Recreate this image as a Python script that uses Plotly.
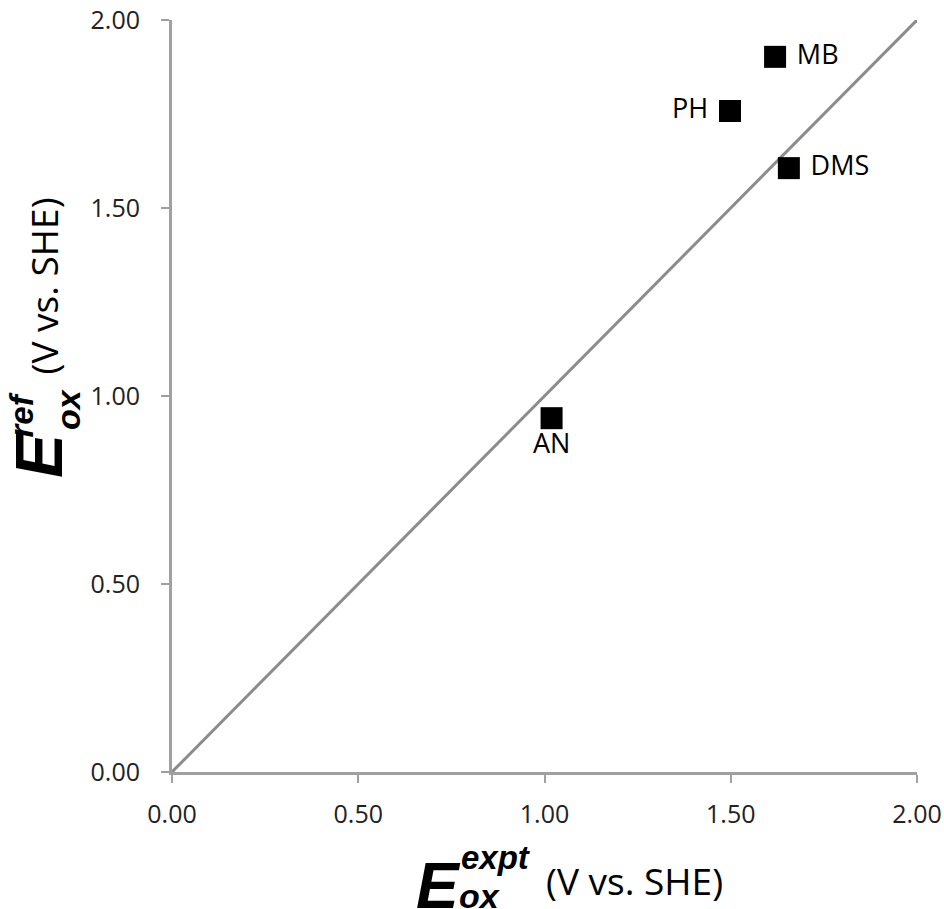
import plotly.graph_objects as go

# ---- data ----
labels = ["MB", "PH", "DMS", "AN"]
e_expt = [1.619, 1.498, 1.656, 1.019]
e_ref = [1.902, 1.758, 1.606, 0.941]
label_pos = ["middle right", "middle left", "middle right", "bottom center"]
line_x = [0.0, 2.0]
line_y = [0.0, 2.0]
tick_vals = [0.0, 0.5, 1.0, 1.5, 2.0]
tick_text = ["0.00", "0.50", "1.00", "1.50", "2.00"]

W, H = 944, 909
L, R, T, B = 172, 27, 20, 137
pw, ph = W - L - R, H - T - B

def px(x):
    return (x - L) / pw

def py(y):
    return (H - B - y) / ph

fig = go.Figure()
fig.add_trace(go.Scatter(x=line_x, y=line_y, mode="lines",
                         line=dict(color="#8c8c8c", width=3), hoverinfo="skip"))
fig.add_trace(go.Scatter(x=e_expt, y=e_ref, mode="markers+text",
                         marker=dict(symbol="square", size=22, color="black"),
                         text=[" " + t if p == "middle right" else (t + " " if p == "middle left" else t)
                               for t, p in zip(labels, label_pos)],
                         textposition=label_pos,
                         textfont=dict(family="Open Sans", size=27, color="black")))

axis_common = dict(range=[0, 2], tickvals=tick_vals, ticktext=tick_text,
                   showgrid=False, zeroline=False, showline=True, automargin=False,
                   linecolor="#a0a0a0", linewidth=3, ticks="outside",
                   ticklen=8, tickwidth=2, tickcolor="#a0a0a0",
                   tickfont=dict(family="Open Sans", size=25, color="#222"))

fig.update_layout(
    width=W, height=H, margin=dict(l=L, r=R, t=T, b=B),
    paper_bgcolor="white", plot_bgcolor="white", showlegend=False,
    xaxis=dict(**axis_common, ticklabelstandoff=10),
    yaxis=dict(**axis_common, ticklabelstandoff=16),
)

bi = dict(family="Liberation Sans", color="black")
ann = []
# x-axis title
ann.append(dict(text="<b><i>E</i></b>", x=px(438), y=py(886), font=dict(size=64, **bi)))
ann.append(dict(text="<b><i>expt</i></b>", x=px(459), y=py(857), xanchor="left",
                font=dict(size=33, **bi)))
ann.append(dict(text="<b><i>ox</i></b>", x=px(457), y=py(896), xanchor="left",
                font=dict(size=34, **bi)))
ann.append(dict(text="(V vs. SHE)", x=px(634), y=py(880),
                font=dict(family="Open Sans", size=37, color="black")))
# y-axis title
ann.append(dict(text="<b><i>E</i></b>", x=px(39), y=py(455), font=dict(size=66, **bi),
                textangle=-90))
ann.append(dict(text="<b><i>ref</i></b>", x=px(21), y=py(440), yanchor="bottom",
                font=dict(size=33, **bi), textangle=-90))
ann.append(dict(text="<b><i>ox</i></b>", x=px(68), y=py(432), yanchor="bottom",
                font=dict(size=34, **bi), textangle=-90))
ann.append(dict(text="(V vs. SHE)", x=px(42.5), y=py(286),
                font=dict(family="Open Sans", size=37, color="black"), textangle=-90))
for a in ann:
    a.setdefault("xanchor", "center")
    a.setdefault("yanchor", "middle")
    a.update(xref="paper", yref="paper", showarrow=False)
fig.update_layout(annotations=ann)

fig.write_html("out.html", config={"displayModeBar": False},
               post_script="document.body.style.margin='0px';")
